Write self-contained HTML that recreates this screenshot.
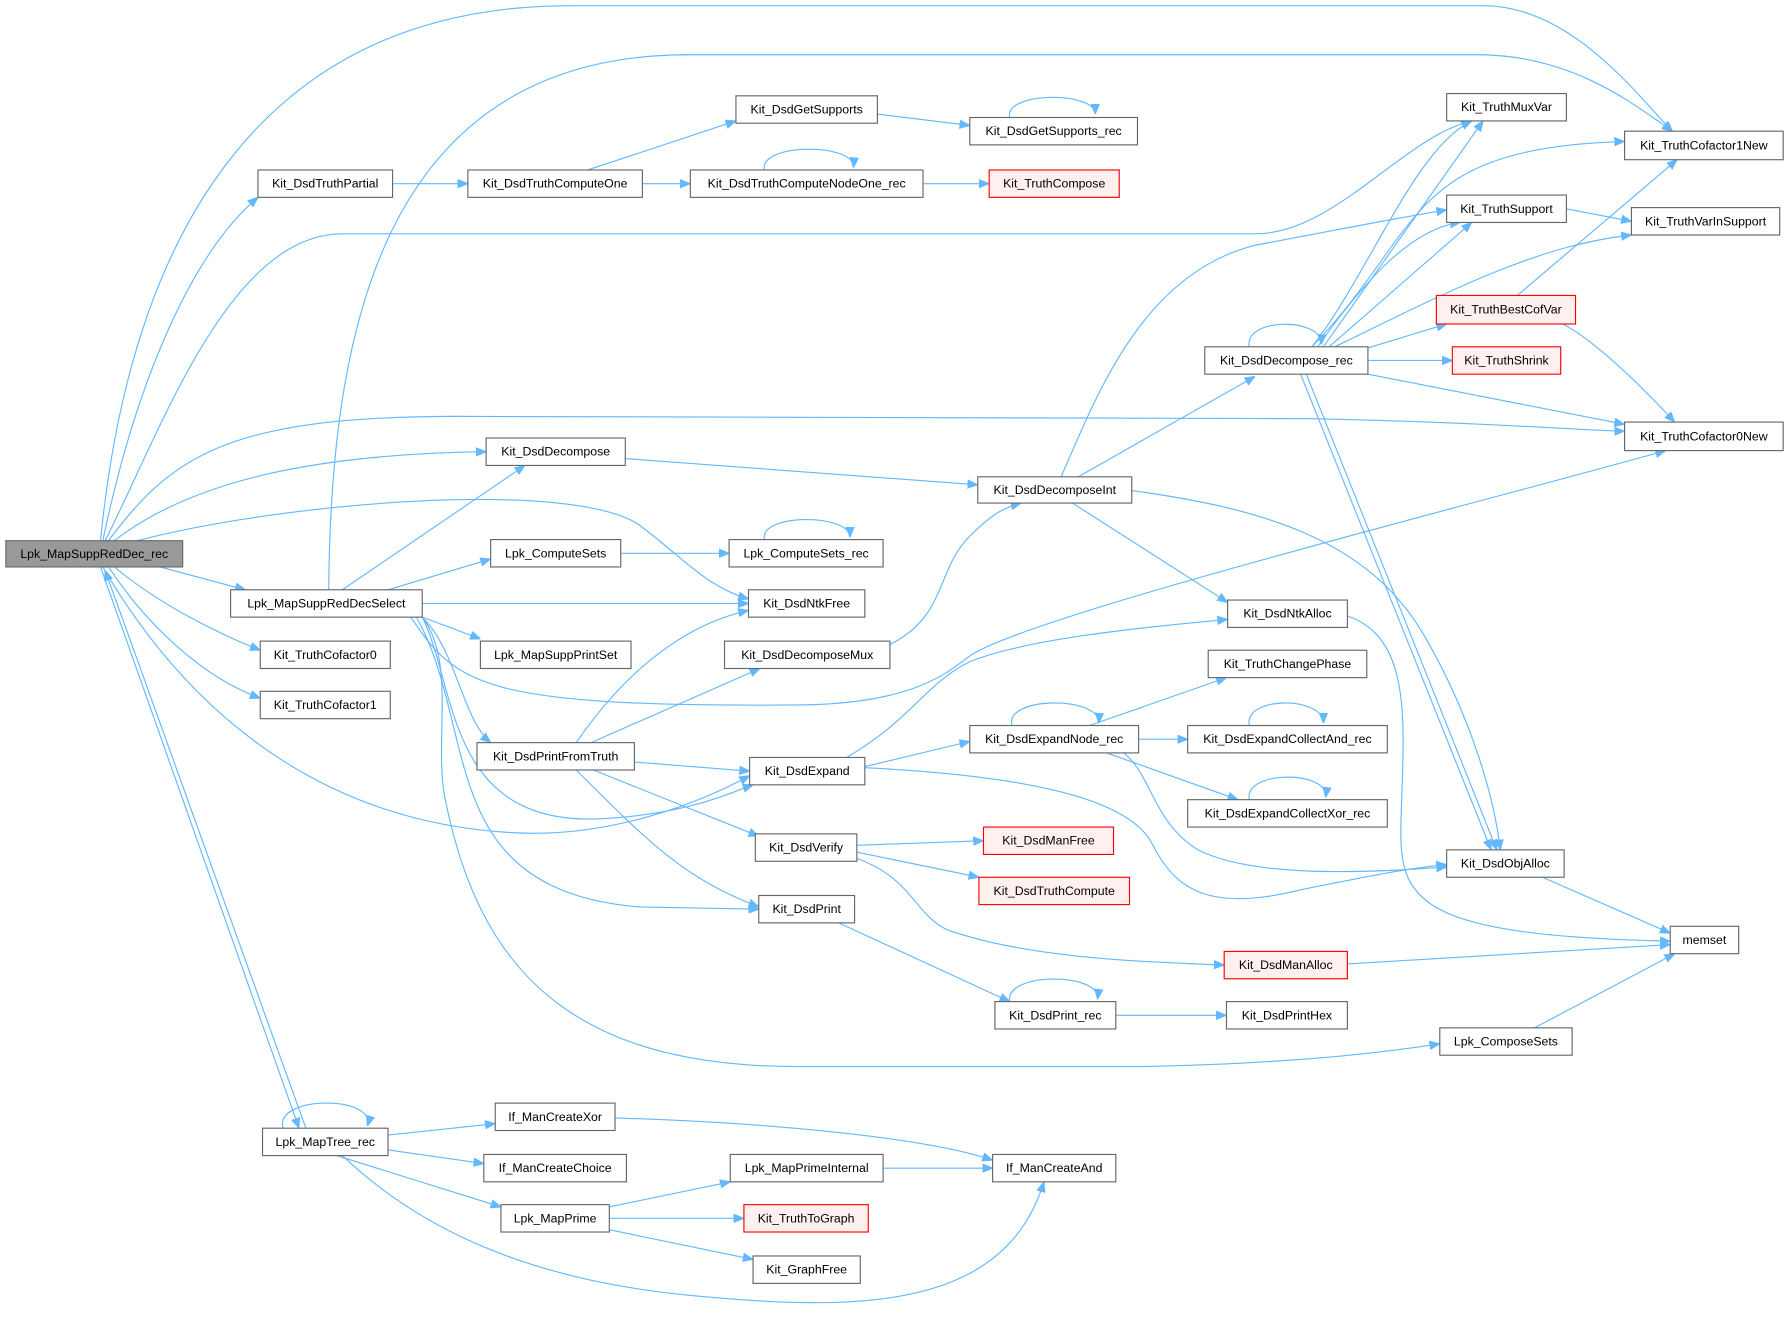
<!DOCTYPE html>
<html><head><meta charset="utf-8"><style>
html,body{margin:0;padding:0;background:#fff;}
svg{display:block}
text{font-family:"Liberation Sans",sans-serif;font-size:10.8px;fill:#000;text-anchor:middle;dominant-baseline:central}
.n{fill:#fff;stroke:#666;stroke-width:1}
.r{fill:#fff0f0;stroke:#f00;stroke-width:1}
.g{fill:#999;stroke:#666;stroke-width:1}
path{fill:none;stroke:#63b8ff;stroke-width:1;marker-end:url(#a)}
</style></head><body>
<svg width="1789" height="1321" viewBox="0 0 1568 1158" xmlns="http://www.w3.org/2000/svg">
<defs><marker id="a" viewBox="0 0 10 10" refX="10" refY="5" markerWidth="9" markerHeight="9" markerUnits="userSpaceOnUse" orient="auto"><path d="M0,1 L10,5 L0,9 z" style="fill:#63b8ff;stroke:#63b8ff;marker-end:none"/></marker></defs>
<g>
<path d="M88,474 C110,250 200,5 500,5 L1300,5 C1380,5 1440,90 1466,115"/>
<path d="M90,474 C120,330 170,220 226,173"/>
<path d="M92,474 C140,380 200,205 300,205 L1100,205 C1170,205 1230,120 1290,106"/>
<path d="M95,474 C150,400 200,365 400,365 L1150,367 C1300,370 1400,378 1424,378"/>
<path d="M100,474 C170,420 280,398 426,396"/>
<path d="M120,474 C250,440 500,420 560,460 C600,490 620,515 656,525"/>
<path d="M140,497 L215,517"/>
<path d="M100,497 C140,530 190,555 228,570"/>
<path d="M95,497 C130,550 180,595 228,612"/>
<path d="M90,497 C150,600 260,720 450,730 C540,735 620,700 657,680"/>
<path d="M88,497 L262,989"/>
<path d="M268,989 L92,500"/>
<path d="M288,517 C290,300 330,50 600,48 L1300,48 C1380,50 1430,90 1466,115"/>
<path d="M300,517 L460,408"/>
<path d="M340,517 L430,490"/>
<path d="M370,529 L656,529"/>
<path d="M370,541 L421,560"/>
<path d="M360,541 C400,600 420,620 700,618 C800,617 830,590 850,575 C900,540 1300,440 1460,395"/>
<path d="M370,541 C400,570 405,630 430,651"/>
<path d="M370,541 C400,600 390,720 520,718 C600,715 640,695 660,688"/>
<path d="M365,541 C420,640 380,780 560,795 L665,797"/>
<path d="M370,541 C400,580 380,650 390,700 C420,850 500,935 700,935 L1000,935 C1150,932 1230,920 1262,915"/>
<path d="M344,161 L410,161"/>
<path d="M515,149 L645,106"/>
<path d="M563,161 L605,161"/>
<path d="M769,100 L850,110"/>
<path d="M885,103 C880,80 960,80 960,100"/>
<path d="M670,149 C665,125 750,125 748,147"/>
<path d="M809,161 L867,161"/>
<path d="M548,402 L857,425"/>
<path d="M930,418 C960,350 1000,240 1100,215 C1180,200 1230,190 1268,184"/>
<path d="M945,418 L1100,330"/>
<path d="M940,441 L1076,528"/>
<path d="M992,430 C1100,445 1200,470 1250,560 C1290,630 1310,700 1315,745"/>
<path d="M1150,304 C1200,240 1240,130 1290,106"/>
<path d="M1160,304 L1300,106"/>
<path d="M1150,304 C1250,200 1230,130 1424,124"/>
<path d="M1165,304 L1290,195"/>
<path d="M1155,304 C1200,240 1240,200 1280,195"/>
<path d="M1170,304 C1280,250 1350,215 1430,206"/>
<path d="M1199,305 L1268,284"/>
<path d="M1199,316 L1273,316"/>
<path d="M1199,328 L1424,372"/>
<path d="M1140,328 L1307,745"/>
<path d="M1145,328 L1312,745"/>
<path d="M1095,304 C1090,278 1160,278 1158,302"/>
<path d="M1330,259 L1470,140"/>
<path d="M1370,284 C1400,300 1440,340 1468,370"/>
<path d="M1373,183 L1430,194"/>
<path d="M544,485 L639,485"/>
<path d="M670,473 C665,450 745,450 745,471"/>
<path d="M780,565 C830,540 820,500 850,470 C870,450 880,445 895,441"/>
<path d="M1181,540 C1240,560 1230,640 1228,720 C1226,790 1240,820 1464,825"/>
<path d="M505,651 C540,600 590,550 656,535"/>
<path d="M518,651 L666,586"/>
<path d="M556,668 L657,676"/>
<path d="M520,675 L665,733"/>
<path d="M505,675 C570,740 600,770 665,795"/>
<path d="M742,664 C800,630 810,600 850,580 C900,560 1000,550 1076,543"/>
<path d="M758,672 L850,650"/>
<path d="M758,673 C900,680 990,700 1010,740 C1030,780 1060,800 1140,780 C1200,768 1240,760 1268,758"/>
<path d="M887,636 C880,610 965,610 963,634"/>
<path d="M955,636 L1075,594"/>
<path d="M998,648 L1041,648"/>
<path d="M970,660 L1085,701"/>
<path d="M985,660 C1010,680 1010,720 1050,745 C1100,770 1200,765 1268,760"/>
<path d="M1095,636 C1090,610 1160,610 1160,634"/>
<path d="M1095,701 C1090,675 1165,675 1162,699"/>
<path d="M1352,769 L1464,818"/>
<path d="M751,741 L862,737"/>
<path d="M751,747 L858,769"/>
<path d="M750,752 C800,770 800,800 830,815 C900,840 1000,843 1073,846"/>
<path d="M1181,845 L1464,828"/>
<path d="M735,809 L885,878"/>
<path d="M885,878 C880,852 965,852 962,876"/>
<path d="M978,890 L1075,890"/>
<path d="M1345,901 L1468,836"/>
<path d="M248,989 C240,960 330,960 322,987"/>
<path d="M340,995 L434,985"/>
<path d="M340,1008 L424,1020"/>
<path d="M295,1013 L439,1058"/>
<path d="M300,1013 C360,1070 450,1120 600,1135 C750,1150 880,1150 915,1036"/>
<path d="M539,980 C700,985 820,1000 870,1017"/>
<path d="M774,1024 L870,1024"/>
<path d="M534,1058 L640,1036"/>
<path d="M534,1068 L652,1068"/>
<path d="M534,1078 L660,1104"/>
</g>
<g>
<rect class="g" x="5" y="474" width="155" height="23"/><text x="82.5" y="485.5">Lpk_MapSuppRedDec_rec</text>
<rect class="n" x="226" y="149" width="118" height="24"/><text x="285" y="161">Kit_DsdTruthPartial</text>
<rect class="n" x="410" y="149" width="153" height="24"/><text x="486.5" y="161">Kit_DsdTruthComputeOne</text>
<rect class="n" x="645" y="84" width="124" height="24"/><text x="707" y="96">Kit_DsdGetSupports</text>
<rect class="n" x="850" y="103" width="147" height="24"/><text x="923.5" y="115">Kit_DsdGetSupports_rec</text>
<rect class="n" x="605" y="149" width="204" height="24"/><text x="707" y="161">Kit_DsdTruthComputeNodeOne_rec</text>
<rect class="r" x="867" y="149" width="114" height="24"/><text x="924" y="161">Kit_TruthCompose</text>
<rect class="n" x="1268" y="82" width="105" height="24"/><text x="1320.5" y="94">Kit_TruthMuxVar</text>
<rect class="n" x="1424" y="115" width="139" height="25"/><text x="1493.5" y="127.5">Kit_TruthCofactor1New</text>
<rect class="n" x="1268" y="171" width="105" height="24"/><text x="1320.5" y="183">Kit_TruthSupport</text>
<rect class="n" x="1430" y="182" width="130" height="24"/><text x="1495" y="194">Kit_TruthVarInSupport</text>
<rect class="r" x="1259" y="259" width="122" height="25"/><text x="1320" y="271.5">Kit_TruthBestCofVar</text>
<rect class="r" x="1273" y="304" width="95" height="24"/><text x="1320.5" y="316">Kit_TruthShrink</text>
<rect class="n" x="1056" y="304" width="143" height="24"/><text x="1127.5" y="316">Kit_DsdDecompose_rec</text>
<rect class="n" x="1424" y="370" width="139" height="25"/><text x="1493.5" y="382.5">Kit_TruthCofactor0New</text>
<rect class="n" x="426" y="384" width="122" height="24"/><text x="487" y="396">Kit_DsdDecompose</text>
<rect class="n" x="857" y="418" width="135" height="23"/><text x="924.5" y="429.5">Kit_DsdDecomposeInt</text>
<rect class="n" x="430" y="473" width="114" height="24"/><text x="487" y="485">Lpk_ComputeSets</text>
<rect class="n" x="639" y="473" width="135" height="24"/><text x="706.5" y="485">Lpk_ComputeSets_rec</text>
<rect class="n" x="202" y="517" width="168" height="24"/><text x="286" y="529">Lpk_MapSuppRedDecSelect</text>
<rect class="n" x="656" y="517" width="102" height="24"/><text x="707" y="529">Kit_DsdNtkFree</text>
<rect class="n" x="1076" y="526" width="105" height="24"/><text x="1128.5" y="538">Kit_DsdNtkAlloc</text>
<rect class="n" x="228" y="562" width="114" height="24"/><text x="285" y="574">Kit_TruthCofactor0</text>
<rect class="n" x="421" y="562" width="132" height="24"/><text x="487" y="574">Lpk_MapSuppPrintSet</text>
<rect class="n" x="635" y="562" width="145" height="24"/><text x="707.5" y="574">Kit_DsdDecomposeMux</text>
<rect class="n" x="1059" y="570" width="139" height="24"/><text x="1128.5" y="582">Kit_TruthChangePhase</text>
<rect class="n" x="228" y="606" width="114" height="24"/><text x="285" y="618">Kit_TruthCofactor1</text>
<rect class="n" x="850" y="636" width="148" height="24"/><text x="924" y="648">Kit_DsdExpandNode_rec</text>
<rect class="n" x="1041" y="636" width="175" height="24"/><text x="1128.5" y="648">Kit_DsdExpandCollectAnd_rec</text>
<rect class="n" x="418" y="651" width="138" height="24"/><text x="487" y="663">Kit_DsdPrintFromTruth</text>
<rect class="n" x="657" y="664" width="101" height="24"/><text x="707.5" y="676">Kit_DsdExpand</text>
<rect class="n" x="1041" y="701" width="175" height="24"/><text x="1128.5" y="713">Kit_DsdExpandCollectXor_rec</text>
<rect class="n" x="662" y="731" width="89" height="24"/><text x="706.5" y="743">Kit_DsdVerify</text>
<rect class="r" x="862" y="725" width="114" height="24"/><text x="919" y="737">Kit_DsdManFree</text>
<rect class="n" x="1268" y="745" width="103" height="24"/><text x="1319.5" y="757">Kit_DsdObjAlloc</text>
<rect class="r" x="858" y="769" width="132" height="24"/><text x="924" y="781">Kit_DsdTruthCompute</text>
<rect class="n" x="665" y="785" width="84" height="24"/><text x="707" y="797">Kit_DsdPrint</text>
<rect class="n" x="1464" y="812" width="60" height="24"/><text x="1494" y="824">memset</text>
<rect class="r" x="1073" y="834" width="108" height="24"/><text x="1127" y="846">Kit_DsdManAlloc</text>
<rect class="n" x="872" y="878" width="106" height="24"/><text x="925" y="890">Kit_DsdPrint_rec</text>
<rect class="n" x="1075" y="878" width="106" height="24"/><text x="1128" y="890">Kit_DsdPrintHex</text>
<rect class="n" x="1262" y="901" width="116" height="24"/><text x="1320" y="913">Lpk_ComposeSets</text>
<rect class="n" x="230" y="989" width="110" height="24"/><text x="285" y="1001">Lpk_MapTree_rec</text>
<rect class="n" x="434" y="967" width="105" height="24"/><text x="486.5" y="979">If_ManCreateXor</text>
<rect class="n" x="424" y="1012" width="125" height="24"/><text x="486.5" y="1024">If_ManCreateChoice</text>
<rect class="n" x="870" y="1012" width="108" height="24"/><text x="924" y="1024">If_ManCreateAnd</text>
<rect class="n" x="640" y="1012" width="134" height="24"/><text x="707" y="1024">Lpk_MapPrimeInternal</text>
<rect class="n" x="439" y="1056" width="95" height="24"/><text x="486.5" y="1068">Lpk_MapPrime</text>
<rect class="r" x="652" y="1056" width="109" height="24"/><text x="706.5" y="1068">Kit_TruthToGraph</text>
<rect class="n" x="660" y="1101" width="94" height="24"/><text x="707" y="1113">Kit_GraphFree</text>
</g>
</svg>
</body></html>
